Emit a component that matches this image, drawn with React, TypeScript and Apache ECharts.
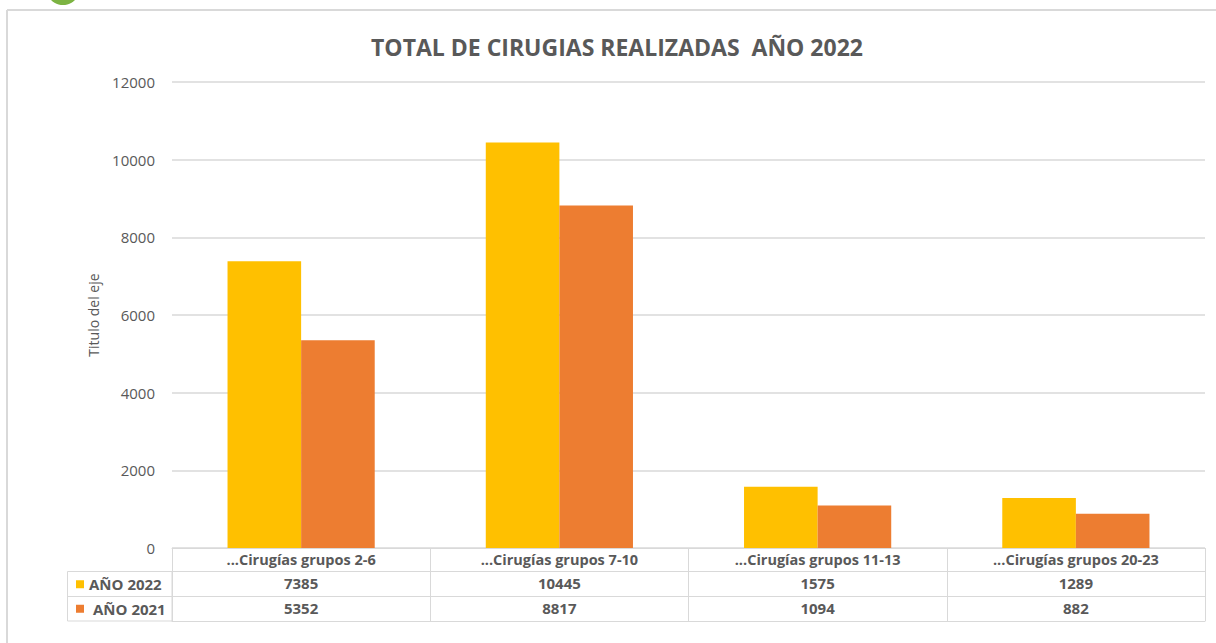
import React, { useEffect, useRef } from "react";
import * as echarts from "echarts";

const categories = [
  "...Cirugías grupos 2-6",
  "...Cirugías grupos 7-10",
  "...Cirugías grupos 11-13",
  "...Cirugías grupos 20-23",
];
const seriesNames = ["AÑO 2022", "AÑO 2021"];
const seriesColors = ["#FFC000", "#ED7D31"];
const values2022 = [7385, 10445, 1575, 1289];
const values2021 = [5352, 8817, 1094, 882];
const yTicks = { min: 0, max: 12000, interval: 2000 };
const titleText = "TOTAL DE CIRUGIAS REALIZADAS  AÑO 2022";
const yAxisTitle = "Titulo del eje";

const GRAY = "#595959";
const LINE = "#d9d9d9";
const FONT = "'Open Sans', 'Noto Sans', sans-serif";

export default function App() {
  const ref = useRef<HTMLDivElement>(null);
  useEffect(() => {
    document.body.style.margin = "0";
    const chart = echarts.init(ref.current!, null, { renderer: "svg" });
    const tableAxis = (
      data: (string | number)[],
      offset: number,
      tickLen: number,
      showLabel: boolean,
      showTick: boolean,
      fontSize: number
    ) => ({
      type: "category",
      position: "bottom",
      gridIndex: 0,
      offset,
      data: data.map(String),
      axisLine: { show: true, lineStyle: { color: LINE, width: 1 } },
      axisTick: { show: showTick, interval: 0, length: tickLen, lineStyle: { color: LINE } },
      axisLabel: {
        show: showLabel,
        interval: 0,
        color: GRAY,
        fontFamily: FONT,
        fontSize,
        fontWeight: "bold",
        margin: 4,
      },
      splitLine: { show: false },
    });
    const rowTop = 572;
    const rowH = 24.5;
    const legendRows = seriesNames.flatMap((name, i) => {
      const cy = rowTop + rowH * i + rowH / 2;
      return [
        { type: "rect", shape: { x: 76, y: cy - 4, width: 8, height: 8 }, style: { fill: seriesColors[i] } },
        {
          type: "text",
          x: i === 0 ? 89 : 93,
          y: cy,
          style: {
            text: name,
            fill: GRAY,
            font: `bold 15px ${FONT}`,
            verticalAlign: "middle",
            align: "left",
          },
        },
      ];
    });
    chart.setOption({
      animation: false,
      backgroundColor: "#ffffff",
      textStyle: { fontFamily: FONT },
      title: {
        text: titleText,
        left: 366,
        top: 30,
        textStyle: { color: GRAY, fontFamily: FONT, fontSize: 23, fontWeight: "bold" },
      },
      grid: { left: 172, right: 11, top: 82, bottom: 95, containLabel: false },
      xAxis: [
        tableAxis(categories, 0, 23, true, true, 14.5),
        tableAxis(values2022, 23, 25, true, true, 15),
        tableAxis(values2021, 48, 25, true, true, 15),
        tableAxis(categories, 73, 0, false, false, 15),
      ],
      yAxis: {
        type: "value",
        min: yTicks.min,
        max: yTicks.max,
        interval: yTicks.interval,
        name: yAxisTitle,
        nameLocation: "middle",
        nameRotate: 90,
        nameGap: 72,
        nameTextStyle: { color: GRAY, fontFamily: FONT, fontSize: 14 },
        axisLine: { show: false },
        axisTick: { show: false },
        axisLabel: {
          color: GRAY,
          fontFamily: FONT,
          fontSize: 15,
          margin: 17,
          formatter: (v: number) => String(v),
        },
        splitLine: { lineStyle: { color: LINE, width: 1.5 } },
      },
      series: [
        {
          name: seriesNames[0],
          type: "bar",
          xAxisIndex: 0,
          data: values2022,
          itemStyle: { color: seriesColors[0] },
          barGap: "0%",
          barCategoryGap: "43%",
        },
        {
          name: seriesNames[1],
          type: "bar",
          xAxisIndex: 0,
          data: values2021,
          itemStyle: { color: seriesColors[1] },
          barGap: "0%",
          barCategoryGap: "43%",
        },
      ],
      graphic: [
        { type: "circle", shape: { cx: 63, cy: -12, r: 17 }, style: { fill: "#7cb342" }, z: 10 },
        { type: "line", shape: { x1: 7, y1: 10, x2: 1216, y2: 10 }, style: { stroke: LINE, lineWidth: 2 } },
        { type: "line", shape: { x1: 7, y1: 10, x2: 7, y2: 643 }, style: { stroke: LINE, lineWidth: 2 } },
        { type: "rect", shape: { x: 67.5, y: 571.5, width: 104.5, height: 49.5 }, style: { fill: "none", stroke: LINE, lineWidth: 1 } },
        { type: "line", shape: { x1: 67.5, y1: 596.5, x2: 172, y2: 596.5 }, style: { stroke: LINE, lineWidth: 1 } },
        ...legendRows,
      ],
    });
    return () => chart.dispose();
  }, []);
  return <div ref={ref} style={{ width: 1216, height: 643 }} />;
}
